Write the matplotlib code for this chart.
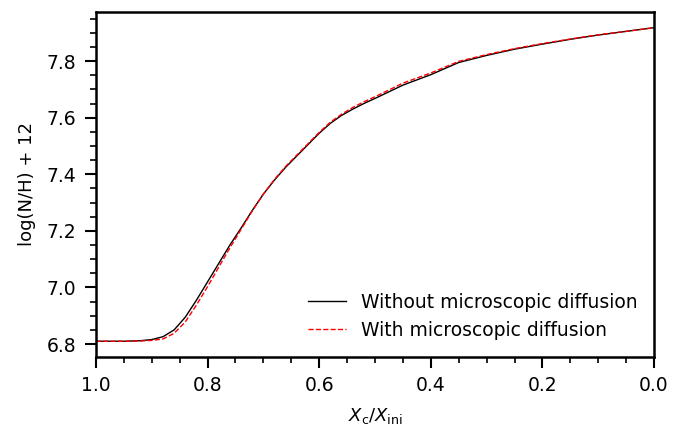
import matplotlib
matplotlib.use("Agg")
import matplotlib.pyplot as plt
from matplotlib.ticker import MultipleLocator

xc = [1.0, 0.95, 0.92, 0.90, 0.88, 0.86, 0.84, 0.82, 0.80, 0.78, 0.76, 0.74, 0.72,
      0.70, 0.68, 0.66, 0.64, 0.62, 0.60, 0.58, 0.56, 0.54, 0.52, 0.50, 0.45,
      0.40, 0.35, 0.30, 0.25, 0.20, 0.15, 0.10, 0.05, 0.0]
no_diff = [6.810, 6.810, 6.812, 6.816, 6.826, 6.850, 6.895, 6.955, 7.020, 7.085,
           7.150, 7.210, 7.272, 7.330, 7.380, 7.425, 7.465, 7.505, 7.545, 7.580,
           7.608, 7.630, 7.650, 7.668, 7.715, 7.752, 7.795, 7.820, 7.842, 7.860,
           7.877, 7.892, 7.905, 7.918]
with_diff = [6.810, 6.810, 6.811, 6.813, 6.818, 6.838, 6.878, 6.938, 7.003, 7.072,
             7.140, 7.205, 7.270, 7.330, 7.382, 7.428, 7.468, 7.508, 7.548, 7.584,
             7.612, 7.636, 7.656, 7.674, 7.722, 7.758, 7.799, 7.823, 7.844, 7.862,
             7.878, 7.893, 7.905, 7.918]

fig = plt.figure(figsize=(6.87, 4.29), dpi=100)
ax = fig.add_axes([0.1397, 0.168, 0.8123, 0.804])
ax.plot(xc, no_diff, color="black", lw=1.0, label="Without microscopic diffusion")
ax.plot(xc, with_diff, color="red", lw=1.0, ls="--", label="With microscopic diffusion")
ax.set_xlim(1.0, 0.0)
ax.xaxis.set_major_locator(MultipleLocator(0.2))
ax.xaxis.set_minor_locator(MultipleLocator(0.05))
ax.yaxis.set_major_locator(MultipleLocator(0.2))
ax.yaxis.set_minor_locator(MultipleLocator(0.05))
ax.tick_params(which="major", direction="out", length=8, width=1.5, labelsize=13.5, pad=6)
ax.tick_params(which="minor", direction="out", length=4, width=1.2)
for s in ax.spines.values():
    s.set_linewidth(1.8)
ax.set_xlabel(r"$X_{\rm c}/X_{\rm ini}$", fontsize=13, labelpad=8)
ax.set_ylabel("log(N/H) + 12", fontsize=13, labelpad=8)
ax.legend(loc="lower right", frameon=False, fontsize=13.5, borderaxespad=0.5)
fig.savefig("out.png", dpi=100)
